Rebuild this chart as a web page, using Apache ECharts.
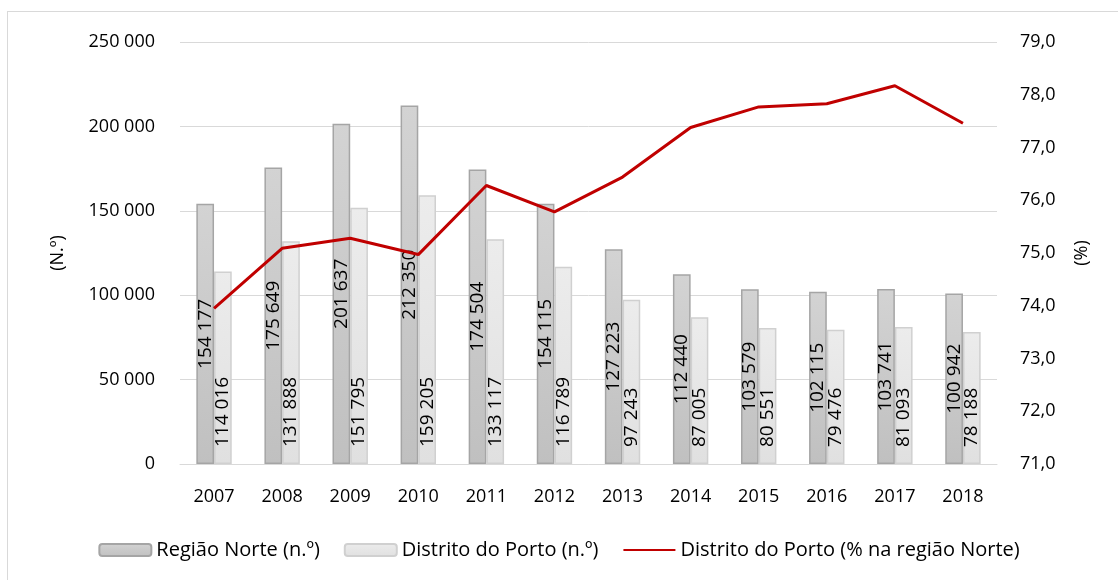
<!DOCTYPE html>
<html>
<head>
<meta charset="utf-8">
<script src="https://cdn.jsdelivr.net/npm/echarts@6/dist/echarts.min.js"></script>
<style>
    html, body { margin: 0; padding: 0; background: #fff; }
    #frame {
        position: absolute; left: 7px; top: 11px; width: 1120px; height: 580px;
        border: 1px solid #d9d9d9; box-sizing: border-box;
    }
    #chart { position: absolute; left: 0; top: 0; width: 1118px; height: 580px; }
</style>
</head>
<body>
<div id="frame"></div>
<div id="chart"></div>
<script>
    var years = ['2007', '2008', '2009', '2010', '2011', '2012', '2013', '2014', '2015', '2016', '2017', '2018'];
    var norte = [154177, 175649, 201637, 212350, 174504, 154115, 127223, 112440, 103579, 102115, 103741, 100942];
    var porto = [114016, 131888, 151795, 159205, 133117, 116789, 97243, 87005, 80551, 79476, 81093, 78188];
    var portoPct = [73.95, 75.09, 75.28, 74.97, 76.28, 75.78, 76.44, 77.38, 77.77, 77.83, 78.17, 77.46];

    var font = '"Open Sans", "Noto Sans", sans-serif';

    function fmtThousands(v) {
        return String(v).replace(/\B(?=(\d{3})+(?!\d))/g, ' ');
    }

    var chart = echarts.init(document.getElementById('chart'), null, {renderer: 'canvas'});
    var option = {
        backgroundColor: 'transparent',
        animation: false,
        textStyle: {fontFamily: font},
        grid: {left: 180, right: 121, top: 42, bottom: 116},
        legend: {
            bottom: 15,
            left: 'center',
            itemWidth: 52,
            itemHeight: 12,
            itemGap: 24,
            textStyle: {fontFamily: font, fontSize: 20, color: '#000'},
            data: [
                'Região Norte (n.º)',
                'Distrito do Porto (n.º)',
                {name: 'Distrito do Porto (% na região Norte)', itemStyle: {opacity: 0}}
            ]
        },
        xAxis: {
            type: 'category',
            data: years,
            axisTick: {show: false},
            axisLine: {lineStyle: {color: '#d9d9d9', width: 1}},
            axisLabel: {color: '#000', fontSize: 18, margin: 24, fontFamily: font}
        },
        yAxis: [
            {
                type: 'value',
                min: 0,
                max: 250000,
                interval: 50000,
                name: '(N.º)',
                nameLocation: 'middle',
                nameRotate: 90,
                nameGap: 113,
                nameTextStyle: {fontSize: 18, color: '#000', fontFamily: font},
                axisLine: {show: false},
                axisTick: {show: false},
                splitLine: {lineStyle: {color: '#d9d9d9', width: 1}},
                axisLabel: {
                    color: '#000', fontSize: 18, margin: 25, fontFamily: font,
                    formatter: fmtThousands
                }
            },
            {
                type: 'value',
                min: 71,
                max: 79,
                interval: 1,
                name: '(%)',
                nameLocation: 'middle',
                nameRotate: 90,
                nameGap: 76,
                nameTextStyle: {fontSize: 18, color: '#000', fontFamily: font},
                axisLine: {show: false},
                axisTick: {show: false},
                splitLine: {show: false},
                axisLabel: {
                    color: '#000', fontSize: 18, margin: 23, fontFamily: font,
                    formatter: function (v) { return v.toFixed(1).replace('.', ','); }
                }
            }
        ],
        series: [
            {
                name: 'Região Norte (n.º)',
                type: 'bar',
                data: norte,
                barGap: '0%',
                barCategoryGap: '48%',
                itemStyle: {
                    color: new echarts.graphic.LinearGradient(0, 0, 0, 1, [
                        {offset: 0, color: '#d3d3d3'},
                        {offset: 1, color: '#c0c0c0'}
                    ]),
                    borderColor: '#a5a5a5',
                    borderWidth: 1.5
                },
                label: {
                    show: true,
                    position: 'inside',
                    rotate: 90,
                    color: '#000',
                    fontSize: 19,
                    fontFamily: font,
                    formatter: function (p) { return fmtThousands(p.value); }
                }
            },
            {
                name: 'Distrito do Porto (n.º)',
                type: 'bar',
                data: porto,
                itemStyle: {
                    color: new echarts.graphic.LinearGradient(0, 0, 0, 1, [
                        {offset: 0, color: '#ececec'},
                        {offset: 1, color: '#e0e0e0'}
                    ]),
                    borderColor: '#d0d0d0',
                    borderWidth: 1.5
                },
                label: {
                    show: true,
                    position: 'insideBottom',
                    distance: 17,
                    rotate: 90,
                    align: 'left',
                    verticalAlign: 'middle',
                    color: '#000',
                    fontSize: 19,
                    fontFamily: font,
                    formatter: function (p) { return fmtThousands(p.value); }
                }
            },
            {
                name: 'Distrito do Porto (% na região Norte)',
                type: 'line',
                yAxisIndex: 1,
                data: portoPct,
                symbol: 'none',
                z: 5,
                lineStyle: {color: '#c00000', width: 3},
                itemStyle: {color: '#c00000'}
            }
        ]
    };
    chart.setOption(option);
</script>
</body>
</html>
